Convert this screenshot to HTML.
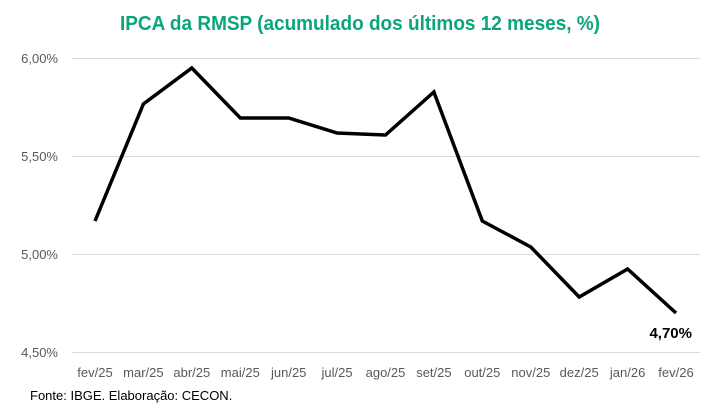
<!DOCTYPE html>
<html><head><meta charset="utf-8"><style>
html,body{margin:0;padding:0;background:#fff;}
svg{display:block;font-family:"Liberation Sans",sans-serif;}
</style></head><body>
<svg width="721" height="415" viewBox="0 0 721 415">
<text x="360" y="30" text-anchor="middle" font-size="20" font-weight="bold" fill="#0aa57a" textLength="480" lengthAdjust="spacingAndGlyphs">IPCA da RMSP (acumulado dos últimos 12 meses, %)</text>
<g stroke="#d9d9d9" stroke-width="1">
<line x1="72" y1="58.5" x2="700" y2="58.5"/>
<line x1="72" y1="156.5" x2="700" y2="156.5"/>
<line x1="72" y1="254.5" x2="700" y2="254.5"/>
<line x1="72" y1="352.5" x2="700" y2="352.5"/>
</g>
<g font-size="13" fill="#595959" text-anchor="end">
<text x="58" y="63">6,00%</text>
<text x="58" y="161">5,50%</text>
<text x="58" y="259">5,00%</text>
<text x="58" y="357">4,50%</text>
</g>
<polyline fill="none" stroke="#000" stroke-width="3.5" stroke-linejoin="miter" points="95,221 143.4,104 191.8,68 240.3,118 288.7,118 337.1,133 385.5,135 433.9,92 482.3,221 530.8,247 579.2,297 627.6,269 676,313"/>
<text x="692" y="338" text-anchor="end" font-size="15" font-weight="bold" fill="#000">4,70%</text>
<g font-size="13" fill="#595959" text-anchor="middle">
<text x="95" y="377">fev/25</text>
<text x="143.4" y="377">mar/25</text>
<text x="191.8" y="377">abr/25</text>
<text x="240.3" y="377">mai/25</text>
<text x="288.7" y="377">jun/25</text>
<text x="337.1" y="377">jul/25</text>
<text x="385.5" y="377">ago/25</text>
<text x="433.9" y="377">set/25</text>
<text x="482.3" y="377">out/25</text>
<text x="530.8" y="377">nov/25</text>
<text x="579.2" y="377">dez/25</text>
<text x="627.6" y="377">jan/26</text>
<text x="676" y="377">fev/26</text>
</g>
<text x="30" y="400" font-size="13" fill="#000">Fonte: IBGE. Elaboração: CECON.</text>
</svg>
</body></html>
